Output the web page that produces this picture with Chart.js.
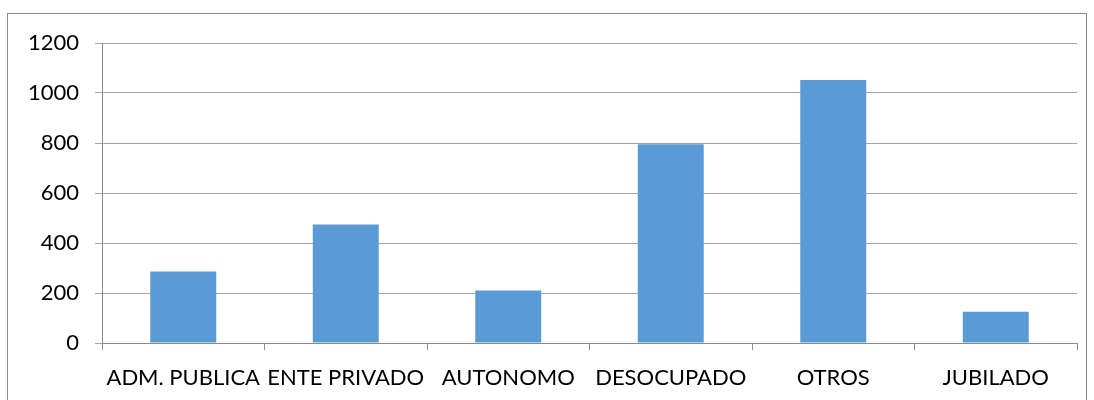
<!DOCTYPE html>
<html>
<head>
<meta charset="utf-8">
<script src="https://cdn.jsdelivr.net/npm/chart.js@4.4.0/dist/chart.umd.min.js"></script>
<style>
  html, body { margin: 0; padding: 0; background: #fff; }
  #wrap { position: relative; width: 1094px; height: 400px; }
  #marco { position: absolute; left: 7px; top: 13px; width: 1080px; height: 400px; border: 1px solid #8c8c8c; box-sizing: border-box; }
  canvas { position: absolute; left: 0; top: 0; }
</style>
</head>
<body>
<div id="wrap">
  <div id="marco"></div>
  <canvas id="grafic" width="1094" height="400"></canvas>
</div>
<script>
const categorias = ['ADM. PUBLICA', 'ENTE PRIVADO', 'AUTONOMO', 'DESOCUPADO', 'OTROS', 'JUBILADO'];
const valores = [286, 474, 210, 795, 1052, 125];
const ticksY = [0, 200, 400, 600, 800, 1000, 1200];

const ctx = document.getElementById('grafic').getContext('2d');

new Chart(ctx, {
    type: 'bar',
    data: {
        labels: categorias,
        datasets: [{
            data: valores,
            backgroundColor: '#5B9BD5',
            borderWidth: 0,
            barPercentage: 0.406,
            categoryPercentage: 1
        }]
    },
    options: {
        responsive: false,
        animation: false,
        layout: { padding: { top: 43, right: 17, left: 0, bottom: 0 } },
        plugins: {
            legend: { display: false },
            tooltip: { enabled: false }
        },
        scales: {
            x: {
                offset: true,
                grid: {
                    offset: true,
                    drawOnChartArea: false,
                    drawTicks: true,
                    tickLength: 7,
                    color: '#8c8c8c'
                },
                border: { color: '#8c8c8c', width: 1 },
                ticks: {
                    color: '#000',
                    font: { family: 'Lato', size: 22 },
                    padding: 15,
                    maxRotation: 0,
                    autoSkip: false
                },
                afterFit: (scale) => { scale.height = 57; }
            },
            y: {
                min: 0,
                max: 1200,
                afterBuildTicks: (scale) => {
                    scale.ticks = ticksY.map(v => ({ value: v }));
                },
                grid: {
                    color: '#a6a6a6',
                    tickLength: 7,
                    lineWidth: 1
                },
                border: { color: '#8c8c8c', width: 1 },
                ticks: {
                    color: '#000',
                    font: { family: 'Lato', size: 22 },
                    padding: 16,
                    callback: (v) => String(v)
                },
                afterFit: (scale) => { scale.width = 102; }
            }
        }
    }
});
</script>
</body>
</html>
